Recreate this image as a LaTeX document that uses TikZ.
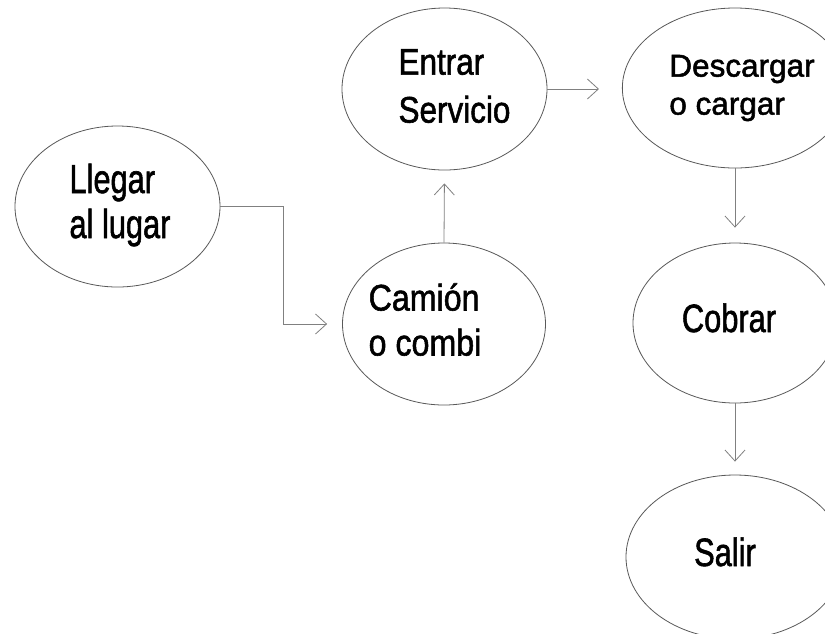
\documentclass[tikz,border=0pt]{standalone}
\usepackage{fontspec}
\usepackage{graphicx}
\setmainfont{Liberation Sans}
\newfontfamily\lblfont[FakeBold=1.6]{Liberation Sans}
\usetikzlibrary{arrows.meta,shapes.geometric}
\newcommand\lbl[5]{{\lblfont\fontsize{#1}{#2}\selectfont\hspace*{#4}\scalebox{#3}[1]{\begin{tabular}{@{}l@{}}#5\end{tabular}}}}
\definecolor{edgegray}{gray}{0.35}
\definecolor{arrgray}{gray}{0.5}
\tikzset{
  oval/.style={ellipse, draw=edgegray, line width=0.8pt, inner sep=0pt, text=black},
  flow/.style={draw=arrgray, line width=0.8pt, -{Straight Barb[length=11pt,width=20pt,line width=0.8pt]}}
}
\begin{document}
\begin{tikzpicture}[x=1pt,y=-1pt]
\useasboundingbox[fill=white] (0,0) rectangle (825,633);
\node[oval, minimum width=205pt, minimum height=161pt] (llegar) at (117.5,206.5)
  {\lbl{40.5}{45}{0.76}{5pt}{Llegar\\al lugar}};
\node[oval, minimum width=203pt, minimum height=162pt] (camion) at (444,324)
  {\lbl{37}{45}{0.87}{-38pt}{Camión\\o combi}};
\node[oval, minimum width=205pt, minimum height=162pt] (entrar) at (444.5,89)
  {\lbl{37}{48}{0.85}{20pt}{Entrar\\Servicio}};
\node[oval, minimum width=204pt, minimum height=160pt] (desc) at (735,88)
  {\lbl{31.5}{38}{1}{14pt}{Descargar\\o cargar}};
\node[oval, minimum width=204pt, minimum height=160pt] (cobrar) at (735,323)
  {\lbl{39.5}{45}{0.78}{-12pt}{Cobrar}};
\node[oval, minimum width=218pt, minimum height=164pt] (salir) at (735,557)
  {\lbl{39.5}{45}{0.78}{-20pt}{Salir}};
\coordinate (k1) at (283,0);
\draw[flow, shorten >=15pt] (llegar.east) -- (llegar.east -| k1) |- (camion.west);
\draw[flow, shorten >=13pt] (camion.north) -- (entrar.south);
\draw[flow, shorten >=23pt] (entrar.east) -- (entrar.east -| desc.west);
\draw[flow, shorten >=15pt] (desc.south) -- (cobrar.north);
\draw[flow, shorten >=13pt] (cobrar.south) -- (salir.north);
\end{tikzpicture}
\end{document}
